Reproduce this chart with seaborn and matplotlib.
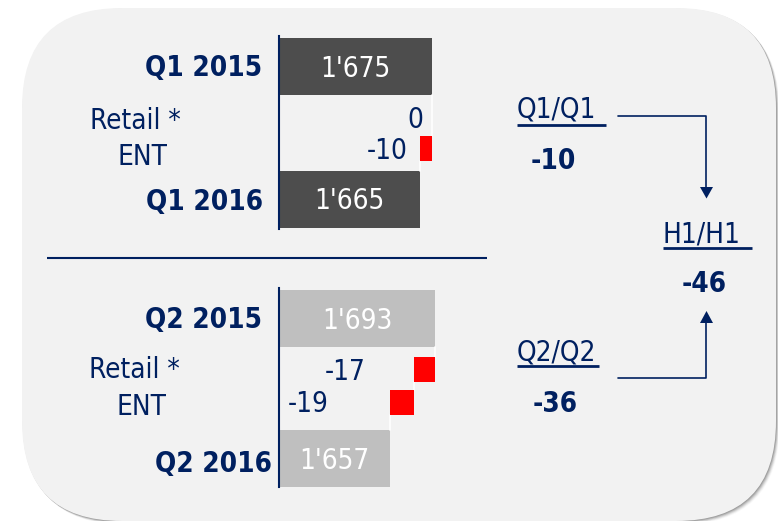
import matplotlib
matplotlib.use("Agg")
import matplotlib.pyplot as plt
from matplotlib import font_manager as fm
from matplotlib.patches import FancyBboxPatch, Polygon
import numpy as np
import pandas as pd
import seaborn as sns

# ---------------- data ----------------
q1_periods = ["Q1 2015", "Q1 2016"]
q1_totals = [1675, 1665]
q1_drivers = ["Retail *", "ENT"]
q1_changes = [0, -10]

q2_periods = ["Q2 2015", "Q2 2016"]
q2_totals = [1693, 1657]
q2_drivers = ["Retail *", "ENT"]
q2_changes = [-17, -19]

summary_titles = ["Q1/Q1", "Q2/Q2", "H1/H1"]
summary_values = [-10, -36, -46]

# ---------------- style ----------------
sns.set_theme(style="white")
plt.rcParams["font.family"] = ["DejaVu Sans"]

has_condensed = any(f.name == "DejaVu Sans" and str(f.stretch) == "condensed"
                    for f in fm.fontManager.ttflist)
if has_condensed:
    plt.rcParams["font.stretch"] = "condensed"
    FS = 20
else:
    FS = 18

W, H = 778, 521
NAVY = "#002060"
RED = "#FF0000"
BG = "#F2F2F2"
BAR_PX = 57
DELTA_PX = 25
CAP_PX = 0.729 * FS * 100 / 72
BASE_OFF_PT = -(CAP_PX / 2) * 0.72  # baseline offset so cap-height is centred on bar


def fmt(v):
    return f"{v:,}".replace(",", "'")


panels = [
    dict(periods=q1_periods, totals=q1_totals, drivers=q1_drivers, changes=q1_changes,
         color="#4D4D4D", rows=[0, 1, 1.59, 2.58], row0=66.5, unit=51.5,
         top=36, bot=229, x0=1547.5, ppu=1.2, label_dx=[-9, -12],
         labels=[(262, 75.5), (181, 129), (167, 165), (263, 210)]),
    dict(periods=q2_periods, totals=q2_totals, drivers=q2_drivers, changes=q2_changes,
         color="#BFBFBF", rows=[0, 1, 1.64, 2.75], row0=318.5, unit=51.0,
         top=288, bot=487, x0=1568, ppu=1.25, label_dx=[-48, -62],
         labels=[(262, 328), (180, 378), (166, 415), (272, 472)]),
]

fig = plt.figure(figsize=(W / 100, H / 100), dpi=100, facecolor="white")

# background panel (pixel coordinates)
bg = fig.add_axes([0, 0, 1, 1], zorder=0)
bg.set_xlim(0, W)
bg.set_ylim(H, 0)
bg.axis("off")
RS = "round,pad=0,rounding_size=100"
for off, a in [(6, 0.04), (5, 0.07), (4, 0.10), (3, 0.14), (2, 0.18), (1, 0.22)]:
    bg.add_patch(FancyBboxPatch((22 + off * 0.6, 8 + off * 0.6), 754, 513, boxstyle=RS,
                                fc="#505050", ec="none", alpha=a))
bg.add_patch(FancyBboxPatch((22, 8), 754, 513, boxstyle=RS, fc=BG, ec="none"))

# separator line
bg.plot([47, 487], [257.7, 257.7], color=NAVY, lw=1.5, solid_capstyle="butt")

AX_L, AX_R = 279, 490
for p in panels:
    ax = fig.add_axes([AX_L / W, 1 - p["bot"] / H, (AX_R - AX_L) / W,
                       (p["bot"] - p["top"]) / H], zorder=2)
    ax.set_facecolor("none")
    rows = p["rows"]
    unit = p["unit"]
    bar_h = BAR_PX / unit
    d_h = DELTA_PX / unit
    tot_rows = [rows[0], rows[-1]]
    df = pd.DataFrame({"row": tot_rows, "value": p["totals"]})
    sns.barplot(data=df, x="value", y="row", orient="y", native_scale=True,
                color=p["color"], saturation=1, errorbar=None,
                width=bar_h / (tot_rows[1] - tot_rows[0]), linewidth=0, ax=ax)

    # floating change bars
    visible = [(rows[0], bar_h, p["totals"][0])]
    cum = p["totals"][0]
    for r, d, dx in zip(rows[1:-1], p["changes"], p["label_dx"]):
        if d != 0:
            ax.barh(r, d, left=cum, height=d_h, color=RED, linewidth=0, zorder=3)
        cum += d
        if d != 0:
            visible.append((r, d_h, cum))
        ax.annotate(str(d), xy=(cum, r), xytext=(dx * 0.72, BASE_OFF_PT),
                    textcoords="offset points", ha="right", va="baseline",
                    color=NAVY, fontsize=FS)
    visible.append((rows[-1], bar_h, p["totals"][1]))

    # white connectors
    for (r1, h1, x1), (r2, h2, _) in zip(visible[:-1], visible[1:]):
        ax.plot([x1, x1], [r1 + h1 / 2, r2 - h2 / 2], color="white", lw=1.2, zorder=2)

    xmin = p["x0"]
    xmax = p["x0"] + (AX_R - AX_L) / p["ppu"]
    ax.set_xlim(xmin, xmax)
    ax.set_ylim((p["bot"] - p["row0"]) / unit, (p["top"] - p["row0"]) / unit)

    # total labels inside the bars
    for r, v in zip(tot_rows, p["totals"]):
        ax.annotate(fmt(v), xy=((xmin + v) / 2, r), xytext=(0, BASE_OFF_PT),
                    textcoords="offset points", ha="center", va="baseline",
                    color="white", fontsize=FS)

    ax.set(xlabel="", ylabel="", xticks=[], yticks=[])
    for s in ["top", "right", "bottom"]:
        ax.spines[s].set_visible(False)
    ax.spines["left"].set_color(NAVY)
    ax.spines["left"].set_linewidth(1.5)

    # row labels
    names = [p["periods"][0]] + p["drivers"] + [p["periods"][1]]
    weights = ["bold", "normal", "normal", "bold"]
    for (lx, ly), n, w in zip(p["labels"], names, weights):
        bg.text(lx, ly, n, ha="right", va="baseline", color=NAVY, fontsize=FS,
                fontweight=w)

# summary block
sum_pos = [  # (title x, title baseline, underline end, value centre x, value baseline)
    (517, 117.7, 606, 553.7, 169),
    (517, 360, 599, 555, 411.7),
    (663, 242.7, 752, 704.5, 291.7),
]
ul_off = [6.8, 6.0, 5.6]
for t, v, (tx, ty, ue, vx, vy), uo in zip(summary_titles, summary_values, sum_pos, ul_off):
    bg.text(tx, ty, t, ha="left", va="baseline", color=NAVY, fontsize=FS)
    bg.plot([tx, ue], [ty + uo, ty + uo], color=NAVY, lw=2.0, solid_capstyle="butt")
    bg.text(vx, vy, str(v), ha="center", va="baseline", color=NAVY, fontsize=FS,
            fontweight="bold")

# arrows
bg.plot([618, 706.5, 706.5], [115.5, 115.5, 188], color=NAVY, lw=1.2)
bg.add_patch(Polygon([(700, 187), (713, 187), (706.5, 198.5)], closed=True, fc=NAVY, ec="none"))
bg.plot([618, 706.5, 706.5], [378.3, 378.3, 322], color=NAVY, lw=1.2)
bg.add_patch(Polygon([(700, 323), (713, 323), (706.5, 311)], closed=True, fc=NAVY, ec="none"))

fig.savefig("out.png", dpi=100, facecolor="white")
